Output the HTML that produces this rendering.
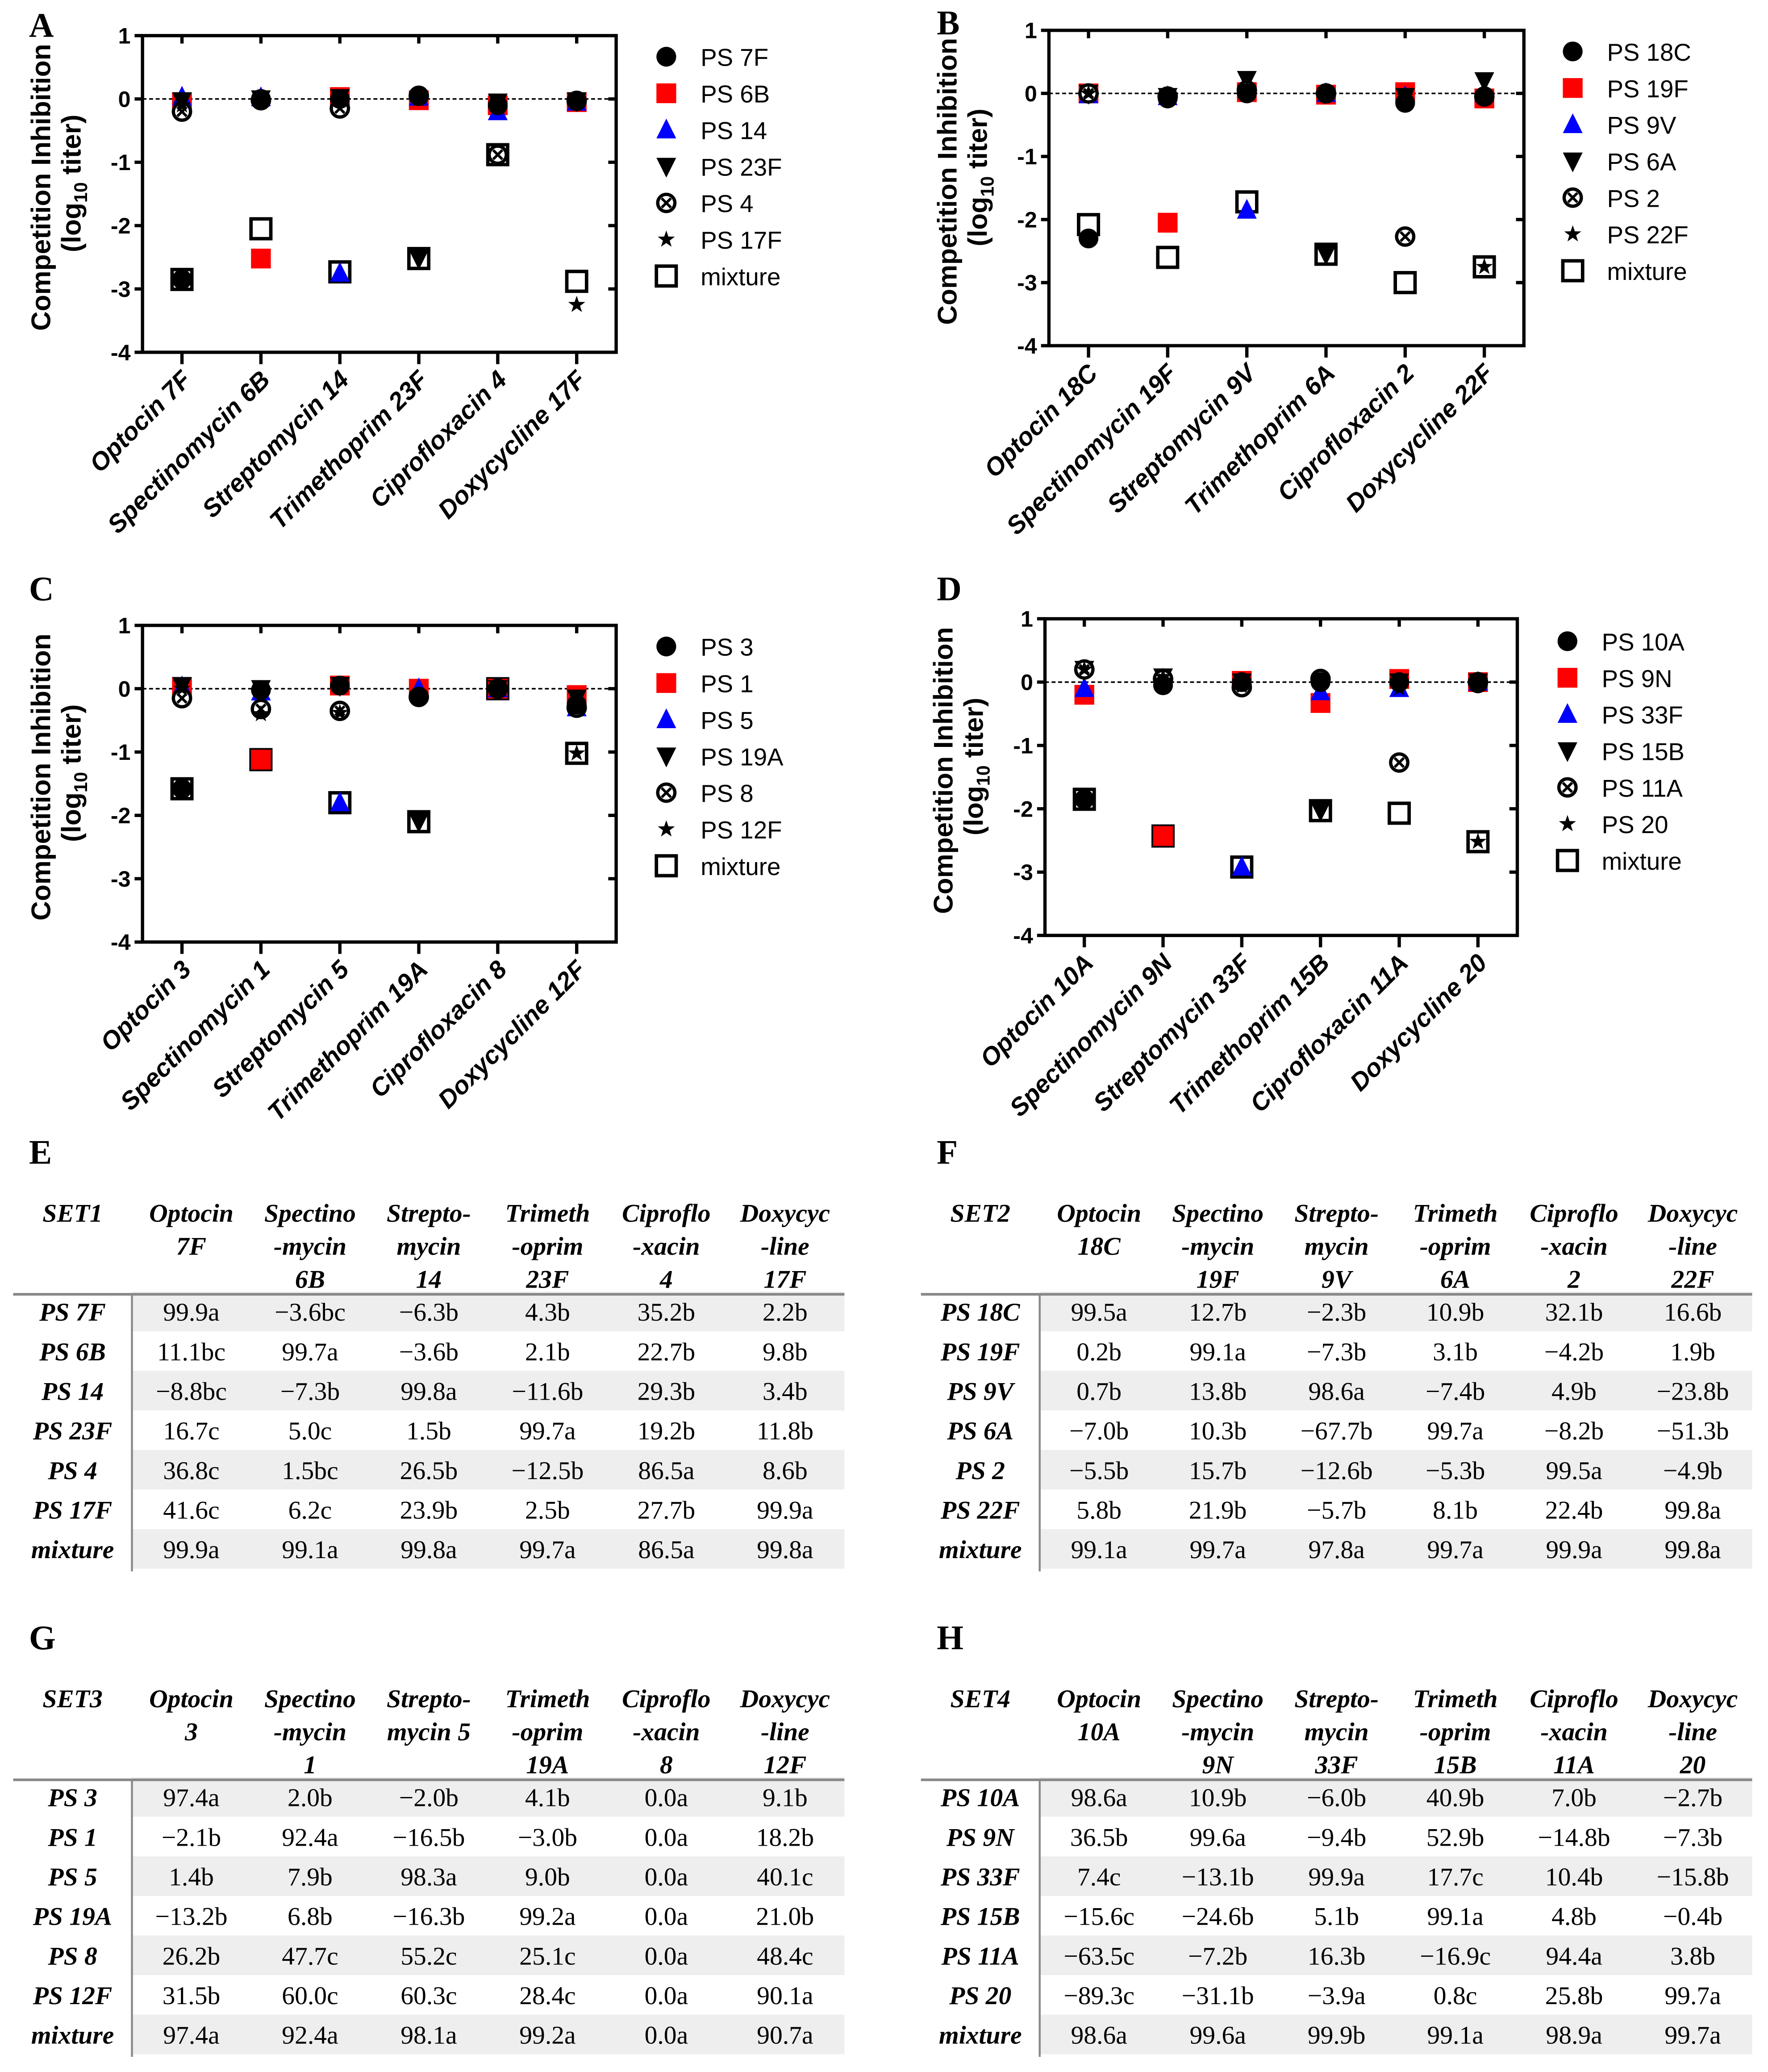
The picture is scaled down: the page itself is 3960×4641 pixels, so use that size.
<!DOCTYPE html>
<html><head><meta charset="utf-8"><style>
html,body{margin:0;padding:0;background:#fff;}
svg{display:block;}
.ax{font-family:"Liberation Sans",sans-serif;font-weight:bold;}
.lg{font-family:"Liberation Sans",sans-serif;font-size:18.5px;}
.tb{font-family:"Liberation Serif",serif;font-size:19.5px;}
.let{font-family:"Liberation Serif",serif;font-weight:bold;font-size:26px;}
</style></head><body>
<svg id="fig" width="3960" height="4641" viewBox="0 0 1340 1570.45" preserveAspectRatio="none" xmlns="http://www.w3.org/2000/svg"></svg>
<script>
// ---------- chart data ----------
const catsA = ["Optocin 7F","Spectinomycin 6B","Streptomycin 14","Trimethoprim 23F","Ciprofloxacin 4","Doxycycline 17F"];
const seriesA = ["PS 7F","PS 6B","PS 14","PS 23F","PS 4","PS 17F","mixture"];
const valsA = [
 [-2.85,0,0,0.05,-0.1,-0.03],
 [-0.05,-2.52,0.03,-0.02,-0.1,-0.05],
 [0.03,0.02,-2.75,0.03,-0.2,-0.05],
 [-0.03,0,0.02,-2.52,-0.05,-0.03],
 [-0.2,-0.02,-0.15,0.05,-0.88,-0.03],
 [-0.1,0,0,0,-0.1,-3.25],
 [-2.85,-2.05,-2.73,-2.52,-0.88,-2.88]];
const catsB = ["Optocin 18C","Spectinomycin 19F","Streptomycin 9V","Trimethoprim 6A","Ciprofloxacin 2","Doxycycline 22F"];
const seriesB = ["PS 18C","PS 19F","PS 9V","PS 6A","PS 2","PS 22F","mixture"];
const valsB = [
 [-2.3,-0.08,0,0,-0.15,-0.05],
 [0,-2.05,0.02,-0.02,0.02,-0.08],
 [-0.02,-0.05,-1.85,0,-0.05,0],
 [0,-0.05,0.22,-2.55,-0.05,0.2],
 [0,-0.05,0.05,0,-2.27,-0.05],
 [0,-0.05,0.05,0,-0.05,-2.75],
 [-2.08,-2.6,-1.72,-2.55,-3.0,-2.75]];
const catsC = ["Optocin 3","Spectinomycin 1","Streptomycin 5","Trimethoprim 19A","Ciprofloxacin 8","Doxycycline 12F"];
const seriesC = ["PS 3","PS 1","PS 5","PS 19A","PS 8","PS 12F","mixture"];
const valsC = [
 [-1.58,-0.02,0.05,-0.13,0,-0.25],
 [0.02,-1.12,0.05,0,0,-0.1],
 [0.03,-0.05,-1.8,0,0,-0.3],
 [0.05,0,0.05,-2.1,0,-0.15],
 [-0.15,-0.32,-0.35,-0.13,0,-0.3],
 [0,-0.4,-0.38,-0.1,0,-1.02],
 [-1.58,-1.12,-1.8,-2.1,0,-1.02]];
const catsD = ["Optocin 10A","Spectinomycin 9N","Streptomycin 33F","Trimethoprim 15B","Ciprofloxacin 11A","Doxycycline  20"];
const seriesD = ["PS 10A","PS 9N","PS 33F","PS 15B","PS 11A","PS 20","mixture"];
const valsD = [
 [-1.85,-0.05,0,0,0,-0.02],
 [-0.2,-2.43,0.02,-0.33,0.05,0],
 [-0.1,0.05,-2.92,-0.15,-0.1,0],
 [0.2,0.08,0,-2.03,0,0],
 [0.2,0.05,-0.08,0.05,-1.27,0],
 [0.2,0.08,0,0,-0.1,-2.52],
 [-1.85,-2.43,-2.92,-2.03,-2.07,-2.52]];
const yTicks = [1,0,-1,-2,-3,-4];
const yTickLabels = ["1","0","-1","-2","-3","-4"];

// ---------- table data ----------
const headE = [["SET1"],["Optocin","7F"],["Spectino","-mycin","6B"],["Strepto-","mycin","14"],["Trimeth","-oprim","23F"],["Ciproflo","-xacin","4"],["Doxycyc","-line","17F"]];
const rowsE = [["PS 7F","99.9a","−3.6bc","−6.3b","4.3b","35.2b","2.2b"],["PS 6B","11.1bc","99.7a","−3.6b","2.1b","22.7b","9.8b"],["PS 14","−8.8bc","−7.3b","99.8a","−11.6b","29.3b","3.4b"],["PS 23F","16.7c","5.0c","1.5b","99.7a","19.2b","11.8b"],["PS 4","36.8c","1.5bc","26.5b","−12.5b","86.5a","8.6b"],["PS 17F","41.6c","6.2c","23.9b","2.5b","27.7b","99.9a"],["mixture","99.9a","99.1a","99.8a","99.7a","86.5a","99.8a"]];
const headF = [["SET2"],["Optocin","18C"],["Spectino","-mycin","19F"],["Strepto-","mycin","9V"],["Trimeth","-oprim","6A"],["Ciproflo","-xacin","2"],["Doxycyc","-line","22F"]];
const rowsF = [["PS 18C","99.5a","12.7b","−2.3b","10.9b","32.1b","16.6b"],["PS 19F","0.2b","99.1a","−7.3b","3.1b","−4.2b","1.9b"],["PS 9V","0.7b","13.8b","98.6a","−7.4b","4.9b","−23.8b"],["PS 6A","−7.0b","10.3b","−67.7b","99.7a","−8.2b","−51.3b"],["PS 2","−5.5b","15.7b","−12.6b","−5.3b","99.5a","−4.9b"],["PS 22F","5.8b","21.9b","−5.7b","8.1b","22.4b","99.8a"],["mixture","99.1a","99.7a","97.8a","99.7a","99.9a","99.8a"]];
const headG = [["SET3"],["Optocin","3"],["Spectino","-mycin","1"],["Strepto-","mycin 5"],["Trimeth","-oprim","19A"],["Ciproflo","-xacin","8"],["Doxycyc","-line","12F"]];
const rowsG = [["PS 3","97.4a","2.0b","−2.0b","4.1b","0.0a","9.1b"],["PS 1","−2.1b","92.4a","−16.5b","−3.0b","0.0a","18.2b"],["PS 5","1.4b","7.9b","98.3a","9.0b","0.0a","40.1c"],["PS 19A","−13.2b","6.8b","−16.3b","99.2a","0.0a","21.0b"],["PS 8","26.2b","47.7c","55.2c","25.1c","0.0a","48.4c"],["PS 12F","31.5b","60.0c","60.3c","28.4c","0.0a","90.1a"],["mixture","97.4a","92.4a","98.1a","99.2a","0.0a","90.7a"]];
const headH = [["SET4"],["Optocin","10A"],["Spectino","-mycin","9N"],["Strepto-","mycin","33F"],["Trimeth","-oprim","15B"],["Ciproflo","-xacin","11A"],["Doxycyc","-line","20"]];
const rowsH = [["PS 10A","98.6a","10.9b","−6.0b","40.9b","7.0b","−2.7b"],["PS 9N","36.5b","99.6a","−9.4b","52.9b","−14.8b","−7.3b"],["PS 33F","7.4c","−13.1b","99.9a","17.7c","10.4b","−15.8b"],["PS 15B","−15.6c","−24.6b","5.1b","99.1a","4.8b","−0.4b"],["PS 11A","−63.5c","−7.2b","16.3b","−16.9c","94.4a","3.8b"],["PS 20","−89.3c","−31.1b","−3.9a","0.8c","25.8b","99.7a"],["mixture","98.6a","99.6a","99.9b","99.1a","98.9a","99.7a"]];

const NS="http://www.w3.org/2000/svg";
const svg=document.getElementById('fig');
function mk(tag,attrs,parent){const e=document.createElementNS(NS,tag);for(const k in attrs)e.setAttribute(k,attrs[k]);(parent||svg).appendChild(e);return e;}

function marker(g,kind,x,y){
  const s=7.5;
  if(kind===0) return mk('circle',{cx:x,cy:y,r:s,fill:'#000'},g);
  if(kind===1) return mk('rect',{x:x-s,y:y-s,width:2*s,height:2*s,fill:'#f00'},g);
  if(kind===2) return mk('polygon',{points:`${x},${y-s-1} ${x+s},${y+s-1} ${x-s},${y+s-1}`,fill:'#00f'},g);
  if(kind===3) return mk('polygon',{points:`${x-s},${y-s+1} ${x+s},${y-s+1} ${x},${y+s+1}`,fill:'#000'},g);
  if(kind===4){const gg=mk('g',{},g);mk('circle',{cx:x,cy:y,r:s-1,fill:'#fff',stroke:'#000','stroke-width':2.5},gg);
    mk('path',{d:`M${x-3.5} ${y-3.5}L${x+3.5} ${y+3.5}M${x+3.5} ${y-3.5}L${x-3.5} ${y+3.5}`,stroke:'#000','stroke-width':2},gg);return gg;}
  if(kind===5){let p=[];for(let i=0;i<10;i++){const r=i%2?2.7:6.8;const a=-Math.PI/2+i*Math.PI/5;p.push((x+r*Math.cos(a)).toFixed(2)+','+(y+r*Math.sin(a)).toFixed(2));}
    return mk('polygon',{points:p.join(' '),fill:'#000'},g);}
  return mk('rect',{x:x-7.5,y:y-7.5,width:15,height:15,fill:'none',stroke:'#000','stroke-width':2.6},g);
}

function chart(name,L,R,T,B,cats,series,vals,legX,legY,letter,lx,ly){
  const g=mk('g',{});
  
  
  const yS=v=>T+(1-v)*(B-T)/5;
  const step=(R-L)/6;
  const xS=i=>L+step*(i+0.5);
  const lt=mk('text',{x:lx,y:ly,class:'let'},g);lt.textContent=letter;
  
  
  mk('rect',{x:L,y:T,width:R-L,height:B-T,fill:'none',stroke:'#000','stroke-width':2.5},g);
  mk('line',{x1:L,x2:R,y1:yS(0),y2:yS(0),stroke:'#000','stroke-width':1.2,'stroke-dasharray':'3,2'},g);
  yTicks.forEach((t,i)=>{
    mk('line',{x1:L-6,x2:L,y1:yS(t),y2:yS(t),stroke:'#000','stroke-width':2.5},g);
    if(i>0&&i<5) mk('line',{x1:R-6,x2:R,y1:yS(t),y2:yS(t),stroke:'#000','stroke-width':2.5},g);
    const tx=mk('text',{x:L-9,y:yS(t)+6,'text-anchor':'end',class:'ax','font-size':17},g);tx.textContent=yTickLabels[i];
    
    
  });
  const yt=mk('text',{transform:`translate(${L-70},${(T+B)/2-5}) rotate(-90)`,'text-anchor':'middle',class:'ax','font-size':20.5},g);
  yt.textContent='Competition Inhibition';
  
  
  const yt2=mk('text',{transform:`translate(${L-47},${(T+B)/2-8}) rotate(-90)`,'text-anchor':'middle',class:'ax','font-size':20.5},g);
  yt2.innerHTML='(log<tspan font-size="14" dy="5">10</tspan><tspan dy="-5"> titer)</tspan>';
  cats.forEach((c,i)=>{
    mk('line',{x1:xS(i),x2:xS(i),y1:T,y2:T+6,stroke:'#000','stroke-width':2.5},g);
    mk('line',{x1:xS(i),x2:xS(i),y1:B,y2:B+9,stroke:'#000','stroke-width':2.5},g);
    const t=mk('text',{transform:`translate(${xS(i)+8},${B+22}) rotate(-45)`,'text-anchor':'end',class:'ax','font-size':19,'font-style':'italic'},g);
    t.textContent=c;
    
    
  });
  [6,1,2,3,4,5,0].forEach(s=>{
    vals[s].forEach((v,i)=>{
      const m=marker(g,s,xS(i),yS(v));
      
      
    });
  });
  series.forEach((s,k)=>{
    const y=legY+k*27.7;
    const lg=mk('g',{},g);
    
    
    marker(lg,k,legX,y);
    const tt=mk('text',{x:legX+26,y:y+7,class:'lg'},lg);tt.textContent=s;
  });
}
chart('a',108,467,27,267,catsA,seriesA,valsA,505,43,'A',22,28);
chart('b',795,1155,23,262,catsB,seriesB,valsB,1192,39,'B',710,26);
chart('c',108,467,474,714,catsC,seriesC,valsC,505,490,'C',22,455);
chart('d',792,1150,469,709,catsD,seriesD,valsD,1188,486,'D',710,455);

function table(name,ox,oy,head,rows,letter){
  const g=mk('g',{});
  
  
  const lt=mk('text',{x:ox+12,y:oy-37,class:'let'},g);lt.textContent=letter;
  const cx=[55,145,235,325,415,505,595].map(v=>v+ox-10);
  const divY=oy+62;
  rows.forEach((r,i)=>{
    const cy=divY+13+i*30;
    if(i%2===0) mk('rect',{x:ox+90,y:cy-15,width:540,height:30,fill:'#eeeeee'},g);
  });
  head.forEach((h,j)=>h.forEach((w,k)=>{
    const t=mk('text',{x:cx[j],y:oy+7+k*25,'text-anchor':'middle',class:'tb','font-weight':'bold','font-style':'italic'},g);t.textContent=w;
    
    
  }));
  mk('line',{x1:ox,x2:ox+630,y1:divY,y2:divY,stroke:'#888','stroke-width':2},g);
  mk('line',{x1:ox+90,x2:ox+90,y1:divY,y2:divY+210,stroke:'#888','stroke-width':1.5},g);
  rows.forEach((r,i)=>{
    const cy=divY+13+i*30;
    r.forEach((c,j)=>{
      const t=mk('text',{x:cx[j],y:cy+7,'text-anchor':'middle',class:'tb'},g);
      if(j===0){t.setAttribute('font-weight','bold');t.setAttribute('font-style','italic');}
      t.textContent=c;
      
      
    });
  });
}
table('e',10,919,headE,rowsE,'E');
table('f',698,919,headF,rowsF,'F');
table('g',10,1287,headG,rowsG,'G');
table('h',698,1287,headH,rowsH,'H');
</script>
</body></html>
